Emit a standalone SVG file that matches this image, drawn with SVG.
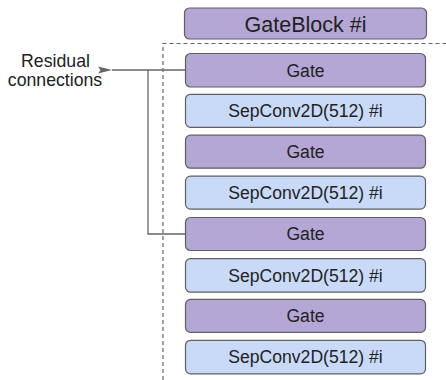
<svg xmlns="http://www.w3.org/2000/svg" width="446" height="380" viewBox="0 0 446 380">
<defs>
<style>
.bx{stroke:#5f5f5f;stroke-width:1.2}
.gate{fill:#b4a7d6}
.sep{fill:#c9daf8}
text{font-family:"Liberation Sans",Arial,sans-serif;fill:#222;text-anchor:middle}
.t{font-size:17.6px}
.conn{fill:none;stroke:#666;stroke-width:1.3}
</style>
<marker id="ah" viewBox="0 0 14 8" refX="0" refY="4" markerWidth="14" markerHeight="8" markerUnits="userSpaceOnUse" orient="auto-start-reverse">
<path d="M0,4 L14,0.5 L11.5,4 L14,7.5 Z" fill="#666"/>
</marker>
</defs>
<rect width="446" height="380" fill="#fff"/>
<g id="frame">
<path d="M163,380 V43.5 H446" fill="none" stroke="#666" stroke-width="1.2" stroke-dasharray="4,3"/>
</g>
<g id="connectors">
<path class="conn" d="M185.5,70 H112" marker-end="url(#ah)"/>
<path class="conn" d="M148,70 V234 H185.5"/>
</g>
<g id="label">
<text font-size="17.7" x="55.5" y="66.7">Residual</text>
<text font-size="17.7" x="55" y="85.7">connections</text>
</g>
<g id="gateblock">
<rect class="bx gate" x="184.5" y="8" width="242" height="31" rx="5"/>
<text font-size="21.5" x="305.5" y="31.7">GateBlock #i</text>
</g>
<g id="gate1"><rect class="bx gate" x="185.5" y="53.5" width="240" height="33.5" rx="5"/><text class="t" x="305.5" y="76.5">Gate</text></g>
<g id="sep1"><rect class="bx sep" x="185.5" y="94.3" width="240" height="33" rx="5"/><text class="t" x="305.5" y="117">SepConv2D(512) #i</text></g>
<g id="gate2"><rect class="bx gate" x="185.5" y="135.2" width="240" height="33" rx="5"/><text class="t" x="305.5" y="157.9">Gate</text></g>
<g id="sep2"><rect class="bx sep" x="185.5" y="176.1" width="240" height="33" rx="5"/><text class="t" x="305.5" y="198.8">SepConv2D(512) #i</text></g>
<g id="gate3"><rect class="bx gate" x="185.5" y="217.5" width="240" height="33" rx="5"/><text class="t" x="305.5" y="240.2">Gate</text></g>
<g id="sep3"><rect class="bx sep" x="185.5" y="258.7" width="240" height="33.5" rx="5"/><text class="t" x="305.5" y="281.6">SepConv2D(512) #i</text></g>
<g id="gate4"><rect class="bx gate" x="185.5" y="299.4" width="240" height="33" rx="5"/><text class="t" x="305.5" y="322.1">Gate</text></g>
<g id="sep4"><rect class="bx sep" x="185.5" y="340.3" width="240" height="33.5" rx="5"/><text class="t" x="305.5" y="363.2">SepConv2D(512) #i</text></g>
</svg>
